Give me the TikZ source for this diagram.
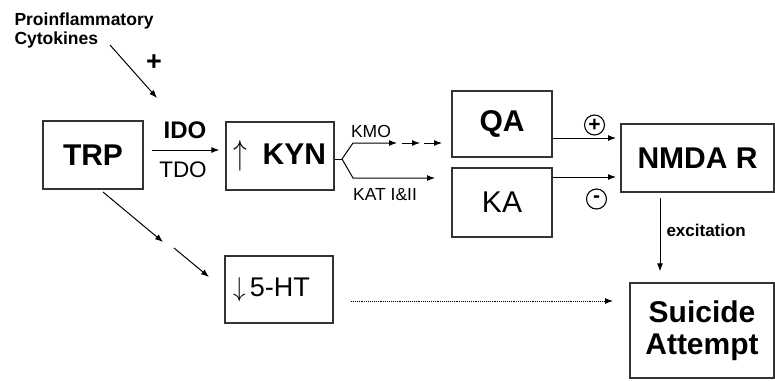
\documentclass[tikz,border=0pt]{standalone}
\usepackage{fontspec}
\setmainfont{Liberation Sans}
\usetikzlibrary{arrows.meta}

\begin{document}
\begin{tikzpicture}[x=1pt,y=-1pt,line width=1pt,>={Latex[length=8pt,width=6pt]},
  box/.style={draw=black!80,line width=1.3pt,inner sep=0pt,align=center},
  hd/.style={font=\fontsize{30}{32}\selectfont\bfseries},
  pl/.style={font=\fontsize{30}{32}\selectfont},
  lbl/.style={font=\fontsize{17.5}{19}\selectfont},
  sgn/.style={draw,circle,line width=1.1pt,minimum size=20pt,inner sep=0pt,
              font=\fontsize{21}{21}\selectfont\bfseries}]
  \useasboundingbox (0,0) rectangle (775,380);

  % ---------- boxes ----------
  \node[box,hd,minimum width=108pt,minimum height=68pt] (kyn) at (280,156)
        {\scalebox{1.1}[1.4]{$\uparrow$}\enspace KYN};
  \node[box,hd,minimum width=100pt,minimum height=68pt] (trp) at (93,155) {TRP};
  \node[box,hd,minimum width=100pt,minimum height=66pt] (qa) at (502,124) {QA};
  \node[box,pl,minimum width=100pt,minimum height=69pt] (ka) at (502,202.5) {KA};
  \node[box,hd,minimum width=153pt,minimum height=68pt] (nmda) at (697.5,158) {NMDA R};
  \node[box,hd,minimum width=144pt,minimum height=95pt] (sui) at (702,330.5) {Suicide\\Attempt};
  \node[box,font=\fontsize{27}{28}\selectfont,minimum width=108pt,minimum height=67pt,
        text width=92pt,align=left] (ht) at (279,289.5) {\scalebox{1}[1.1]{$\downarrow$}\,5-HT};

  % ---------- labels ----------
  \node[font=\fontsize{17.5}{19}\selectfont\bfseries,align=left,anchor=north west,inner sep=0pt]
        (cyto) at (14,12) {Proinflammatory\\Cytokines};
  \node[font=\fontsize{27}{27}\selectfont\bfseries] (plus) at (154,63) {+};
  \node[font=\fontsize{24}{24}\selectfont\bfseries] (ido) at (185,130) {IDO};
  \node[font=\fontsize{22.5}{24}\selectfont] (tdo) at (183,170) {TDO};
  \node[lbl] (kmo) at (371,131) {KMO};
  \node[lbl] (kat) at (385,195) {KAT I\&II};
  \node[sgn] (pos) at (594.5,125) {+};
  \node[sgn] (neg) at (596.5,199) {-};
  \node[font=\fontsize{17}{19}\selectfont\bfseries,anchor=west,inner sep=0pt] (exc) at (666,230) {excitation};

  % ---------- connectors ----------
  \coordinate (cyto0) at (110,45); \coordinate (cyto1) at (157,98);
  \draw[->] (cyto0) -- (cyto1);
  \draw[->] ([xshift=8pt,yshift=5pt]trp.east) -- ([xshift=-6pt,yshift=6pt]kyn.west);
  % fork out of KYN
  \coordinate (fork) at (342,159);
  \coordinate (kmoA) at (353,143); \coordinate (kmoB) at (397,143);
  \coordinate (kmoC) at (402,143); \coordinate (kmoD) at (420,143);
  \coordinate (kmoE) at (424,143); \coordinate (kmoF) at (442,143);
  \coordinate (katA) at (353,178); \coordinate (katB) at (435,178);
  \draw (kyn.east |- fork) -- (fork);
  \draw[->] (fork) -- (kmoA) -- (kmoB);
  \draw[->] (kmoC) -- (kmoD);
  \draw[->] (kmoE) -- (kmoF);
  \draw[->] (fork) -- (katA) -- (katB);
  % into NMDA R
  \coordinate (nq) at (616,138); \coordinate (nk) at (616,177);
  \draw[->] (qa.east |- nq) -- (nq);
  \draw[->] (ka.east |- nk) -- (nk);
  \coordinate (ex0) at (660,198);
  \draw[->,shorten >=11pt] (ex0) -- (sui.north -| ex0);
  % TRP to 5-HT
  \coordinate (t0) at (103,192); \coordinate (t1) at (163,242);
  \coordinate (t2) at (174,248); \coordinate (t3) at (209,277);
  \draw[->] (t0) -- (t1);
  \draw[->] (t2) -- (t3);
  \coordinate (d0) at (351,301); \coordinate (d1) at (613,301);
  \draw[->,densely dotted,line width=0.9pt] (d0) -- (d1);
\end{tikzpicture}
\end{document}
